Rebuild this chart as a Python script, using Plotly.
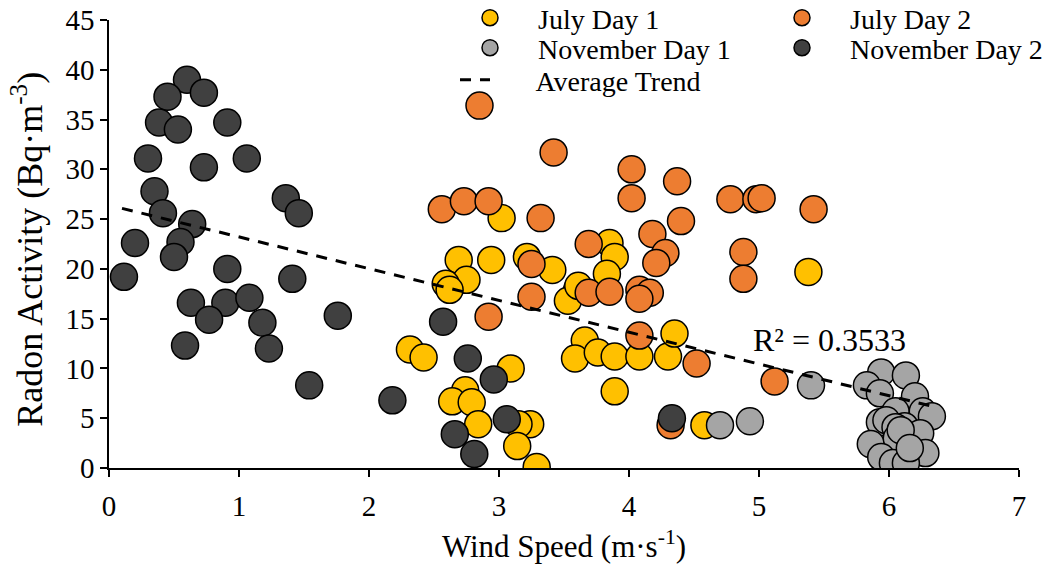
import plotly.graph_objects as go

# ---------------- data ----------------
july1_x = [3.02, 2.69, 2.94, 3.215, 3.41, 2.75, 2.59, 2.62, 3.60, 3.53, 3.85, 3.89, 3.83,
           2.315, 2.42, 3.09, 3.66, 3.585, 3.76, 3.89, 4.08, 4.30, 4.35, 3.89, 2.74, 2.64,
           2.79, 2.84, 3.24, 3.15, 3.14, 3.29, 5.38, 4.58, 3.61]
july1_y = [25.1, 20.9, 20.9, 21.2, 19.9, 18.9, 18.5, 17.9, 17.9, 16.8, 22.6, 21.2, 19.5,
           11.9, 11.1, 10.0, 12.8, 11.0, 11.6, 11.2, 11.2, 11.2, 13.5, 7.7, 7.8, 6.7,
           6.6, 4.4, 4.4, 4.4, 2.2, 0.1, 19.7, 4.3, 18.3]

july2_x = [2.85, 3.42, 2.56, 2.73, 2.92, 3.32, 4.02, 4.02, 4.37, 4.40, 3.69, 4.18, 4.28,
           4.21, 3.25, 3.25, 2.92, 3.69, 3.85, 4.08, 4.16, 4.08, 4.08, 4.32, 4.78, 4.98,
           5.02, 5.42, 4.88, 4.88, 4.52, 5.12]
july2_y = [36.4, 31.7, 26.0, 26.8, 26.8, 25.1, 30.0, 27.1, 28.8, 24.8, 22.5, 23.5, 21.6,
           20.6, 20.5, 17.2, 15.2, 17.6, 17.7, 17.9, 17.6, 17.0, 13.3, 4.3, 27.0, 27.0,
           27.1, 26.0, 21.7, 19.0, 10.5, 8.7]

nov1_x = [4.70, 4.93, 5.40, 5.94, 6.13, 5.83, 5.93, 6.20, 6.26, 6.33, 6.05, 5.93, 5.98,
          6.12, 6.05, 6.24, 5.86, 6.06, 6.09, 6.28, 5.94, 6.03, 6.13, 6.16]
nov1_y = [4.3, 4.7, 8.3, 9.6, 9.3, 8.3, 7.5, 7.2, 5.7, 5.2, 5.7, 4.6, 4.8,
          4.2, 4.1, 3.5, 2.4, 3.0, 3.8, 1.5, 1.1, 0.5, 0.5, 2.0]

nov2_x = [0.60, 0.45, 0.73, 0.385, 0.53, 0.91, 0.30, 0.73, 1.06, 0.35, 1.36, 0.415, 1.46,
          0.64, 0.20, 0.55, 0.50, 0.115, 0.91, 1.41, 0.63, 0.895, 1.08, 0.77, 1.18, 1.76,
          0.585, 1.23, 1.54, 2.18, 2.57, 2.76, 2.96, 3.06, 2.66, 2.81, 4.33]
nov2_y = [39.0, 37.3, 37.7, 34.7, 34.0, 34.7, 31.1, 30.2, 31.1, 27.8, 27.1, 25.6, 25.6,
          24.5, 22.6, 22.7, 21.2, 19.2, 20.0, 19.0, 16.6, 16.6, 17.1, 14.9, 14.6, 15.3,
          12.3, 12.0, 8.3, 6.8, 14.7, 11.0, 8.9, 4.9, 3.4, 1.4, 5.0]

# average trend line (linear fit)
trend_slope = -3.19
trend_intercept = 26.4
trend_x = [0.10, 6.33]
r2_text = "R² = 0.3533"

x_title = "Wind Speed (m·s<sup>-1</sup>)"
y_title = "Radon Activity (Bq·m<sup>-3</sup>)"

series_names = ["July Day 1", "July Day 2", "November Day 1", "November Day 2"]
series_colors = ["#FFC000", "#ED7D31", "#A5A5A5", "#404040"]

FONT = "Liberation Serif, Times New Roman, serif"

fig = go.Figure()
series = [(july1_x, july1_y), (july2_x, july2_y), (nov1_x, nov1_y), (nov2_x, nov2_y)]
legend_ids = ["legend", "legend2", "legend3", "legend4"]
for (sx, sy), name, col, lg in zip(series, series_names, series_colors, legend_ids):
    fig.add_trace(go.Scatter(
        x=sx, y=sy, mode="markers", name="    " + name, legend=lg,
        marker=dict(size=27, color=col, line=dict(color="black", width=1.5)),
    ))

trend_y = [trend_intercept + trend_slope * v for v in trend_x]
fig.add_trace(go.Scatter(
    x=trend_x, y=trend_y, mode="lines", name="      Average Trend", legend="legend5",
    line=dict(color="black", width=3, dash="11px,9px"),
))

fig.add_annotation(x=5.54, y=12.85, xref="x", yref="y", text=r2_text, showarrow=False,
                   font=dict(family=FONT, size=32, color="black"))

# y-axis title as a rotated annotation
fig.add_annotation(x=(28 - 109) / 910.0, y=0.487, xref="paper", yref="paper",
                   text=y_title, textangle=-90, showarrow=False,
                   xanchor="center", yanchor="middle",
                   font=dict(family=FONT, size=36, color="black"))

H = 569.0
def leg(xpx, ypx):
    return dict(xref="container", yref="container", x=xpx / 1044.0, y=1 - ypx / H,
                xanchor="left", yanchor="middle", bgcolor="rgba(0,0,0,0)",
                borderwidth=0, font=dict(family=FONT, size=28, color="black"),
                itemclick=False, itemdoubleclick=False)

fig.update_layout(
    width=1044, height=569,
    margin=dict(l=109, r=25, t=20, b=101, autoexpand=False),
    paper_bgcolor="white", plot_bgcolor="white",
    font=dict(family=FONT, size=28, color="black"),
    legend=leg(470, 18),
    legend2=leg(782, 18),
    legend3=leg(470, 48),
    legend4=leg(782, 48),
    legend5=leg(455, 80),
    xaxis=dict(range=[0, 7], dtick=1, tick0=0, showgrid=False, zeroline=False,
               showline=True, linecolor="black", linewidth=1.5,
               ticks="outside", ticklen=7, tickwidth=1.5, tickcolor="black",
               tickfont=dict(family=FONT, size=29), ticklabelstandoff=4,
               title=dict(text=x_title, font=dict(family=FONT, size=31))),
    yaxis=dict(range=[0, 45], dtick=5, tick0=0, showgrid=False, zeroline=False,
               showline=True, linecolor="black", linewidth=1.5,
               ticks="outside", ticklen=7, tickwidth=1.5, tickcolor="black",
               tickfont=dict(family=FONT, size=29)),
    showlegend=True,
)

fig.write_html("out.html")
